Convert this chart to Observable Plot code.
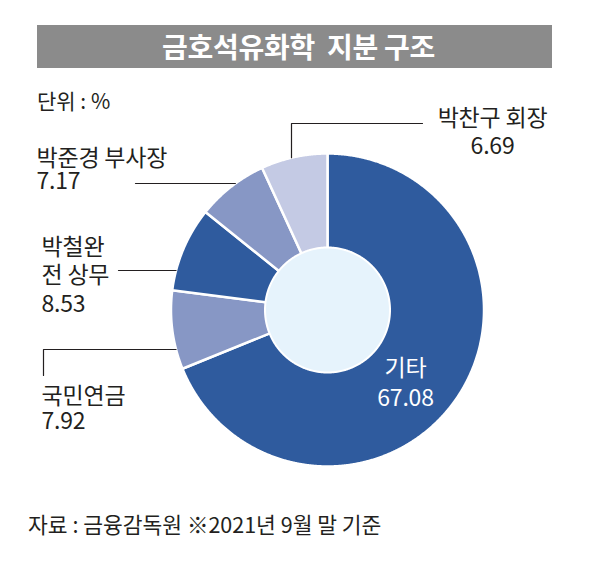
<!DOCTYPE html>
<html>
<head>
<meta charset="utf-8">
<script src="https://cdn.jsdelivr.net/npm/d3@7"></script>
<script src="https://cdn.jsdelivr.net/npm/@observablehq/plot@0.6"></script>
<style>
  body { margin: 0; background: #fff; font-family: "Noto Sans CJK KR", sans-serif; color: #231f20; }
  #wrap { position: relative; width: 613px; height: 563px; overflow: hidden; }
  #chart { position: absolute; left: 0; top: 0; }
  #title { position: absolute; left: 37px; top: 25px; width: 515px; height: 43px; background: #8b8b8b; color: #fff;
           font-weight: 700; font-size: 28px; line-height: 43px; text-align: center; white-space: pre; letter-spacing: -0.3px; text-indent: 8px; }
  #unit { position: absolute; left: 37px; top: 85px; font-size: 21px; line-height: 30px; }
  #note { position: absolute; left: 28px; top: 509px; font-size: 21.5px; line-height: 30px; white-space: pre; }
  #chart text { letter-spacing: -0.2px; }
</style>
</head>
<body>
<div id="wrap">
  <div id="chart"></div>
  <div id="title"></div>
  <div id="unit"></div>
  <div id="note"></div>
</div>
<script>
// ---- data ----
const titleText = "금호석유화학  지분 구조";
const unitText = "단위 : %";
const noteText = "자료 : 금융감독원 ※2021년 9월 말 기준";
const holders = ["기타", "국민연금", "박철완 전 상무", "박준경 부사장", "박찬구 회장"];
const holderLines = [["기타"], ["국민연금"], ["박철완", "전 상무"], ["박준경 부사장"], ["박찬구 회장"]];
const shares = [67.08, 7.92, 8.53, 7.17, 6.69];
const sliceColors = ["#2f5b9e", "#8797c5", "#2f5b9e", "#8797c5", "#c4cae4"];

// ---- layout (pixels relative to donut centre) ----
const W = 613, H = 563, cx = 327, cy = 309.5, R = 156.5, innerR = 62.5;
const labelLayout = [
  {anchor: "middle", x: 78, y: 71, lh: 30, color: "#ffffff"},
  {anchor: "start", x: -286, y: 98, lh: 25, color: "#231f20"},
  {anchor: "start", x: -286, y: -36, lh: 28.5, color: "#231f20"},
  {anchor: "start", x: -291, y: -140, lh: 23.5, color: "#231f20"},
  {anchor: "middle", x: 165, y: -178.5, lh: 28, color: "#231f20"}
];
const leaderLayout = [
  null,
  {edgeY: 39.5, path: [[-284, 39.5], [-284, 65.5]]},
  {edgeY: -39.5, path: [[-209, -39.5]]},
  {edgeY: -126.5, path: [[-192, -126.5]]},
  {edgeX: -36, path: [[-36, -186.5], [95, -186.5]]}
];
const FS = 23;

document.getElementById("title").textContent = titleText;
document.getElementById("unit").textContent = unitText;
document.getElementById("note").textContent = noteText;

// ---- geometry in donut units (radius 1) ----
const arcs = d3.pie().sort(null).value(d => d)(shares);
const wedgePts = arcs.flatMap((a, i) => {
  const n = Math.max(4, Math.ceil((a.endAngle - a.startAngle) / 0.005));
  const pts = [{k: i, x: 0, y: 0}];
  for (let j = 0; j <= n; j++) {
    const t = a.startAngle + (a.endAngle - a.startAngle) * j / n;
    pts.push({k: i, x: Math.sin(t), y: -Math.cos(t)});
  }
  pts.push({k: i, x: 0, y: 0});
  return pts;
});
const ri = innerR / R;
const diskPts = d3.range(0, 721).map(j => ({x: ri * Math.sin(j / 720 * 2 * Math.PI), y: -ri * Math.cos(j / 720 * 2 * Math.PI)}));

const leaderPts = leaderLayout.flatMap((l, i) => {
  if (!l) return [];
  let start;
  if (l.edgeY !== undefined) start = [-Math.sqrt(R * R - l.edgeY * l.edgeY), l.edgeY];
  else start = [l.edgeX, -Math.sqrt(R * R - l.edgeX * l.edgeX)];
  return [start, ...l.path].map(([px, py]) => ({k: i, x: px / R, y: py / R}));
});

const labelMarks = holderLines.map((lines, i) => {
  const L = labelLayout[i];
  const row = {text: [...lines, d3.format(".2f")(shares[i])].join("\n"), x: L.x / R, y: L.y / R};
  return Plot.text([row], {x: "x", y: "y", text: "text", fill: L.color, textAnchor: L.anchor,
    lineAnchor: "middle", lineHeight: L.lh / FS, fontSize: FS});
});

const chart = Plot.plot({
  width: W, height: H, margin: 0,
  style: {fontFamily: '"Noto Sans CJK KR", sans-serif', background: "transparent"},
  x: {domain: [-cx / R, (W - cx) / R], range: [0, W], axis: null},
  y: {domain: [-cy / R, (H - cy) / R], range: [0, H], axis: null},
  color: {type: "identity"},
  marks: [
    Plot.line(wedgePts, {x: "x", y: "y", z: "k", fill: d => sliceColors[d.k], stroke: "#ffffff", strokeWidth: 2.5, strokeLinejoin: "round", curve: "linear"}),
    Plot.line(diskPts, {x: "x", y: "y", fill: "#e6f3fc", stroke: "#ffffff", strokeWidth: 2, curve: "linear"}),
    Plot.line(leaderPts, {x: "x", y: "y", z: "k", stroke: "#231f20", strokeWidth: 1.2, curve: "linear"}),
    ...labelMarks
  ]
});
document.getElementById("chart").appendChild(chart);
</script>
</body>
</html>
